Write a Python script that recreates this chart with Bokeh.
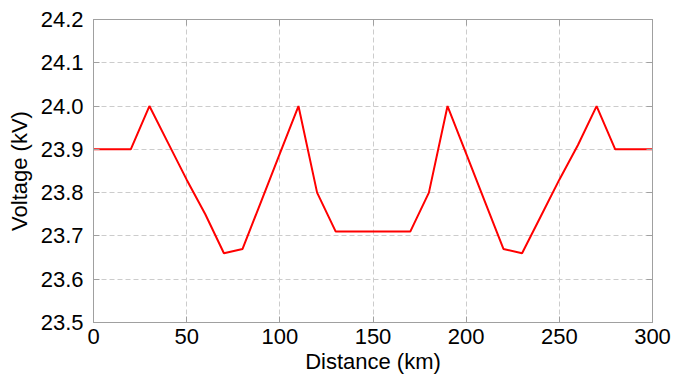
from bokeh.plotting import figure
from bokeh.models import LinearAxis, FixedTicker, Range1d, NumeralTickFormatter, CustomJSTickFormatter
from bokeh.embed import file_html
from bokeh.resources import INLINE

distance = [0, 10, 20, 30, 40, 50, 60, 70, 80, 90, 100, 110, 120, 130, 140, 150,
            160, 170, 180, 190, 200, 210, 220, 230, 240, 250, 260, 270, 280, 290, 300]
voltage = [23.90, 23.90, 23.90, 24.00, 23.915, 23.83, 23.75, 23.66, 23.67, 23.78, 23.89,
           24.00, 23.80, 23.71, 23.71, 23.71, 23.71, 23.71, 23.80, 24.00, 23.89, 23.78,
           23.67, 23.66, 23.745, 23.83, 23.91, 24.00, 23.90, 23.90, 23.90]
x_ticks = [0, 50, 100, 150, 200, 250, 300]
y_ticks = [23.5, 23.6, 23.7, 23.8, 23.9, 24.0, 24.1, 24.2]

FONT = "Liberation Sans"
AX = "#a0a0a0"

p = figure(width=680, height=386, output_backend="svg", toolbar_location=None,
           x_range=Range1d(0, 300), y_range=Range1d(23.5, 24.2),
           min_border_left=93, min_border_right=28, min_border_top=19, min_border_bottom=64,
           x_axis_label="Distance (km)", y_axis_label="Voltage (kV)")
p.outline_line_color = AX
p.background_fill_color = "white"
p.border_fill_color = "white"

p.line(distance, voltage, line_color="#ff0000", line_width=2)

p.xaxis.ticker = FixedTicker(ticks=x_ticks)
p.yaxis.ticker = FixedTicker(ticks=y_ticks)
p.yaxis.formatter = NumeralTickFormatter(format="0.0")

for ax in (p.xaxis[0], p.yaxis[0]):
    ax.axis_line_color = AX
    ax.major_tick_line_color = AX
    ax.major_tick_in = 6
    ax.major_tick_out = 0
    ax.minor_tick_line_color = None
    ax.major_label_text_font = FONT
    ax.major_label_text_font_size = "22px"
    ax.major_label_text_color = "black"
    ax.axis_label_text_font = FONT
    ax.axis_label_text_font_size = "22px"
    ax.axis_label_text_font_style = "normal"
    ax.axis_label_text_color = "black"
p.xaxis.major_label_standoff = 6
p.xaxis.axis_label_standoff = 2
p.yaxis.major_label_standoff = 10
p.yaxis.axis_label_standoff = 6

blank = CustomJSTickFormatter(code="return ''")
top = LinearAxis(ticker=FixedTicker(ticks=x_ticks), formatter=blank,
                 axis_line_color=AX, major_tick_line_color=AX, major_tick_in=6,
                 major_tick_out=0, minor_tick_line_color=None, major_label_standoff=0)
right = LinearAxis(ticker=FixedTicker(ticks=y_ticks), formatter=blank,
                   axis_line_color=AX, major_tick_line_color=AX, major_tick_in=6,
                   major_tick_out=0, minor_tick_line_color=None, major_label_standoff=0)
p.add_layout(top, "above")
p.add_layout(right, "right")

p.xgrid.ticker = FixedTicker(ticks=x_ticks)
p.ygrid.ticker = FixedTicker(ticks=y_ticks)
p.grid.grid_line_color = "#cccccc"
p.grid.grid_line_dash = "5 3"
p.grid.grid_line_width = 1

open("out.html", "w").write(file_html(p, INLINE))
